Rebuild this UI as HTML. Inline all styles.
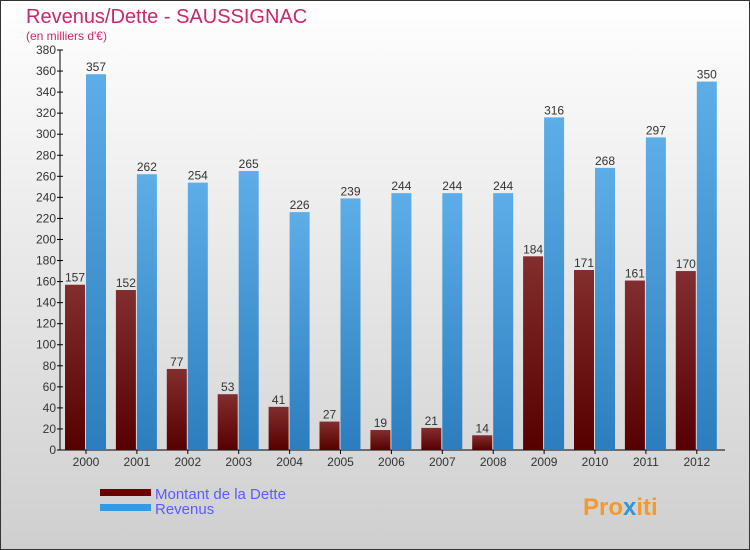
<!DOCTYPE html>
<html><head><meta charset="utf-8"><style>
body{margin:0;width:750px;height:550px;overflow:hidden}
svg{display:block}
text{font-family:"Liberation Sans",sans-serif}
</style></head><body>
<svg id="c" width="750" height="550">
<defs>
<linearGradient id="bg" x1="0" y1="0" x2="0" y2="1"><stop offset="0" stop-color="#ffffff"/><stop offset="1" stop-color="#cfcfcf"/></linearGradient>
<linearGradient id="gd" x1="0" y1="0" x2="0" y2="1"><stop offset="0" stop-color="#832e2e"/><stop offset="1" stop-color="#560000"/></linearGradient>
<linearGradient id="gr" x1="0" y1="0" x2="0" y2="1"><stop offset="0" stop-color="#5daee8"/><stop offset="1" stop-color="#2b7dbd"/></linearGradient>
</defs>
<rect x="0.5" y="0.5" width="749" height="549" fill="url(#bg)" stroke="#333"/>
<text x="26" y="23" font-size="20" fill="#c8286a">Revenus/Dette - SAUSSIGNAC</text>
<text x="26" y="40" font-size="12" fill="#c8286a">(en milliers d'€)</text>
<g id="axes"></g>
<g id="bars"></g>
<rect x="100" y="489" width="51" height="7" fill="#6a0000"/>
<text x="155" y="499" font-size="15" fill="#5a5aff">Montant de la Dette</text>
<rect x="100" y="504" width="51" height="7" fill="#2f9ae6"/>
<text x="155" y="514" font-size="15" fill="#5a5aff">Revenus</text>
<text x="583" y="515" font-size="24" font-weight="bold" fill="#f39a2a">Pro<tspan fill="#2a9ad6">x</tspan>iti</text>
</svg>
<script>
const years=["2000","2001","2002","2003","2004","2005","2006","2007","2008","2009","2010","2011","2012"];
const debt=[157,152,77,53,41,27,19,21,14,184,171,161,170];
const revenue=[357,262,254,265,226,239,244,244,244,316,268,297,350];
const yTicks=[0,20,40,60,80,100,120,140,160,180,200,220,240,260,280,300,320,340,360,380];
const NS="http://www.w3.org/2000/svg";
const y0=450,y1=50,vmax=380,x0=60,step=50.9,bw=20;
const yS=v=>y0-(v/vmax)*(y0-y1);
const gx=i=>65+i*step;
function mk(tag,attrs,parent,txt){const e=document.createElementNS(NS,tag);for(const k in attrs)e.setAttribute(k,attrs[k]);if(txt!==undefined)e.textContent=txt;parent.appendChild(e);return e;}
const ax=document.getElementById('axes'),bg=document.getElementById('bars');
let a=mk('line',{x1:x0,y1:y0,x2:x0,y2:y1,stroke:'#000'},ax);

a=mk('line',{x1:x0,y1:y0,x2:725,y2:y0,stroke:'#000'},ax);

yTicks.forEach(t=>{const y=yS(t);
 const l=mk('line',{x1:x0-3,y1:y,x2:x0+3,y2:y,stroke:'#000'},ax);
 
 const tx=mk('text',{x:x0-4,y:y+4,'font-size':12,'text-anchor':'end',fill:'#333'},ax,t);
 });
years.forEach((yr,i)=>{const x=gx(i);
 const l=mk('line',{x1:x+21,y1:y0,x2:x+21,y2:y0+4,stroke:'#000'},ax);
 
 const t=mk('text',{x:x+21,y:y0+16,'font-size':12,'text-anchor':'middle',fill:'#333'},ax,yr);
 
 const d=mk('rect',{x:x,y:yS(debt[i]),width:bw,height:y0-yS(debt[i]),fill:'url(#gd)'},bg);
 
 const dl=mk('text',{x:x+bw/2,y:yS(debt[i])-3,'font-size':12,'text-anchor':'middle',fill:'#333'},bg,debt[i]);
 
 const r=mk('rect',{x:x+21,y:yS(revenue[i]),width:bw,height:y0-yS(revenue[i]),fill:'url(#gr)'},bg);
 
 const rl=mk('text',{x:x+21+bw/2,y:yS(revenue[i])-3,'font-size':12,'text-anchor':'middle',fill:'#333'},bg,revenue[i]);
 
});
</script>
</body></html>
